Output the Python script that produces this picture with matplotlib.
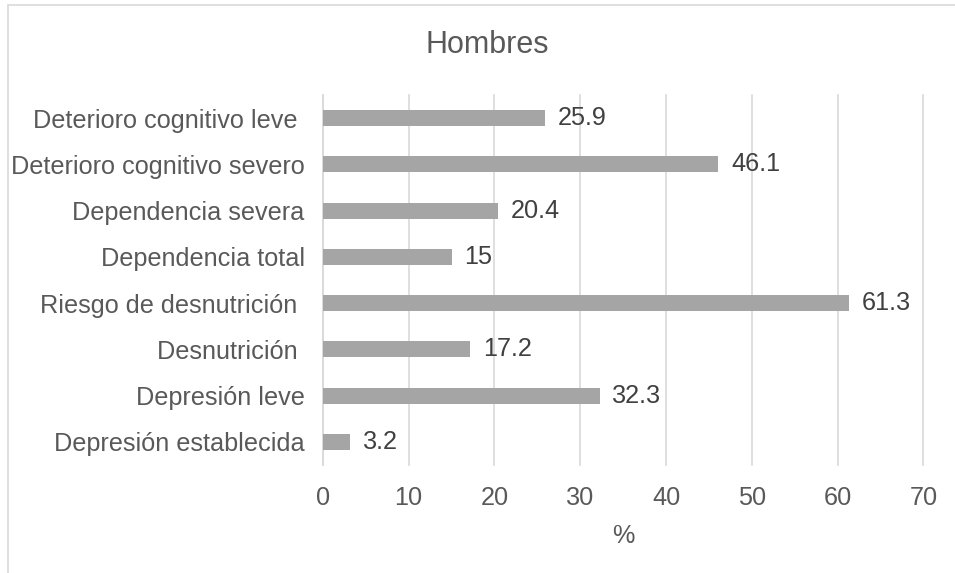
import matplotlib
matplotlib.use("Agg")
import matplotlib.pyplot as plt
from matplotlib.patches import Rectangle

plt.rcParams['font.family'] = ['Liberation Sans', 'DejaVu Sans']

categories = [
    "Deterioro cognitivo leve ",
    "Deterioro cognitivo severo",
    "Dependencia severa",
    "Dependencia total",
    "Riesgo de desnutrición ",
    "Desnutrición ",
    "Depresión leve",
    "Depresión establecida",
]
values = [25.9, 46.1, 20.4, 15, 61.3, 17.2, 32.3, 3.2]
value_labels = ["25.9", "46.1", "20.4", "15", "61.3", "17.2", "32.3", "3.2"]
x_ticks = [0, 10, 20, 30, 40, 50, 60, 70]

text_color = "#595959"
bar_color = "#a5a5a5"
grid_color = "#d9d9d9"
fs = 18.2

fig = plt.figure(figsize=(9.55, 5.73), dpi=100)

# chart frame
fig.patches.append(Rectangle((8 / 955, -0.05), 1.0, 1 - 5 / 573 + 0.05,
                             transform=fig.transFigure, fill=False,
                             edgecolor="#d9d9d9", linewidth=1.2))

ax = fig.add_axes([0.338, 0.1885, 0.629, 0.6457])
pos = list(range(len(categories)))
ax.barh(pos, values, height=0.35, color=bar_color, zorder=3)
ax.set_ylim(len(categories) - 0.5, -0.5)
ax.set_xlim(0, 70)
ax.set_xticks(x_ticks)
ax.set_xticklabels([str(t) for t in x_ticks])
ax.set_yticks(pos)
ax.set_yticklabels(categories)

for p, v, lab in zip(pos, values, value_labels):
    ax.annotate(lab, (v, p), xytext=(9, 0), textcoords="offset points",
                va="center", ha="left", fontsize=fs, color="#404040")

ax.grid(axis="x", color=grid_color, linewidth=1.2, zorder=0)
for gl in ax.get_xgridlines():
    gl.set_clip_on(False)
for s in ["top", "right", "bottom"]:
    ax.spines[s].set_visible(False)
ax.spines["left"].set_color(grid_color)
ax.spines["left"].set_linewidth(1.2)
ax.tick_params(axis="both", length=0, labelsize=fs, colors=text_color)
ax.tick_params(axis="y", pad=13)
ax.tick_params(axis="x", pad=15)

ax.set_xlabel("%", fontsize=fs, color=text_color, labelpad=10)
fig.text(0.51, 0.922, "Hombres", ha="center", va="center",
         fontsize=22, color=text_color)

fig.savefig("out.png", dpi=100)
